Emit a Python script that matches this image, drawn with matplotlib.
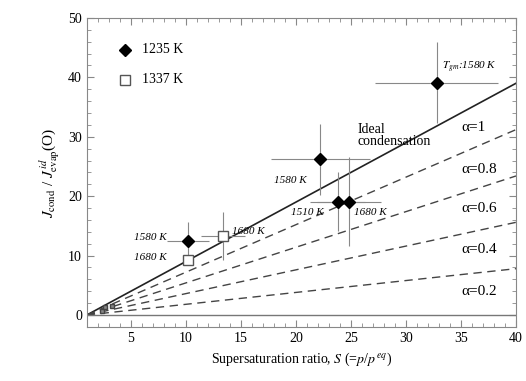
import numpy as np
import matplotlib
matplotlib.use('Agg')
import matplotlib.pyplot as plt
from matplotlib.ticker import MultipleLocator

plt.rcParams['font.family'] = ['Liberation Serif', 'DejaVu Serif']
plt.rcParams['mathtext.fontset'] = 'stix'

# 1235 K (filled diamonds)
s_1235 = [10.2, 22.2, 23.8, 24.8, 32.8]
j_1235 = [12.4, 26.2, 19.1, 19.1, 39.1]
sx_1235 = [1.9, 4.5, 2.5, 2.9, 5.6]
jy_1235 = [3.3, 6.0, 5.0, 7.5, 6.8]

# 1337 K (open squares)
s_1337 = [10.2, 13.4]
j_1337 = [9.2, 13.3]
sx_1337 = [0.0, 2.0]
jy_1337 = [0.0, 4.0]

# small points near origin
s_small = [2.35, 2.7, 3.3]
j_small = [0.7, 1.3, 1.5]

alphas = [0.2, 0.4, 0.6, 0.8]
alpha_labels = ['α=1', 'α=0.8', 'α=0.6', 'α=0.4', 'α=0.2']
alpha_label_y = [31.5, 24.5, 18.0, 11.0, 4.0]

point_labels = ['1580 K', '1680 K', '1680 K', '1580 K', '1510 K', '1680 K']
point_label_xy = [(5.3, 13.0), (5.3, 9.6), (14.2, 14.0), (18.0, 22.6),
                  (19.6, 17.3), (25.3, 17.3)]

fig = plt.figure(figsize=(5.26, 3.81), dpi=100)
ax = fig.add_axes([0.165, 0.142, 0.816, 0.811])

S = np.linspace(1, 40, 100)
ax.plot(S, S - 1, color='#222222', lw=1.2)
for a in alphas:
    ax.plot(S, a * (S - 1), color='#444444', lw=1.0, dashes=(6, 4))
ax.axhline(0, color='#777777', lw=1.0)

ax.errorbar(s_1235, j_1235, xerr=sx_1235, yerr=jy_1235, fmt='none',
            ecolor='#888888', elinewidth=0.8, capsize=0)
ax.errorbar(s_1337, j_1337, xerr=sx_1337, yerr=jy_1337, fmt='none',
            ecolor='#888888', elinewidth=0.8, capsize=0)
ax.plot(s_1235, j_1235, 'D', color='black', ms=6, ls='none')
ax.plot(s_1337, j_1337, 's', mfc='white', mec='#555555', ms=7, ls='none')
ax.plot(s_small, j_small, 's', mfc='#888888', mec='#444444', ms=3, ls='none')

# legend
ax.plot([4.5], [44.6], 'D', color='black', ms=6)
ax.text(6.0, 44.6, '1235 K', fontsize=10, va='center')
ax.plot([4.5], [39.6], 's', mfc='white', mec='#555555', ms=7)
ax.text(6.0, 39.6, '1337 K', fontsize=10, va='center')

for lab, (x, y) in zip(point_labels, point_label_xy):
    ax.text(x, y, lab, fontsize=8, style='italic', va='center')
ax.text(33.3, 41.6, '$T_{gm}$:1580 K', fontsize=8, style='italic', va='center')

ax.text(25.6, 30.2, 'Ideal\ncondensation', fontsize=10, va='center',
        linespacing=0.95)
for lab, y in zip(alpha_labels, alpha_label_y):
    ax.text(35.0, y, lab, fontsize=11, va='center')

ax.set_xlim(1, 40)
ax.set_ylim(-2, 50)
ax.xaxis.set_major_locator(MultipleLocator(5))
ax.xaxis.set_minor_locator(MultipleLocator(1))
ax.yaxis.set_major_locator(MultipleLocator(10))
ax.yaxis.set_minor_locator(MultipleLocator(2))
ax.set_xticks([5, 10, 15, 20, 25, 30, 35, 40])
ax.tick_params(which='both', direction='in', top=True, right=True,
               color='#888888', labelsize=10)
ax.tick_params(which='major', length=5)
ax.tick_params(which='minor', length=3)
for sp in ax.spines.values():
    sp.set_color('#888888')

ax.set_xlabel('Supersaturation ratio, $S$ (=$p$/$p^{\\,eq}$)', fontsize=10)
ax.set_ylabel('$J_{\\rm cond}$ / $J^{\\,id}_{\\rm evap}$(O)', fontsize=11)

fig.savefig('out.png', dpi=100)
